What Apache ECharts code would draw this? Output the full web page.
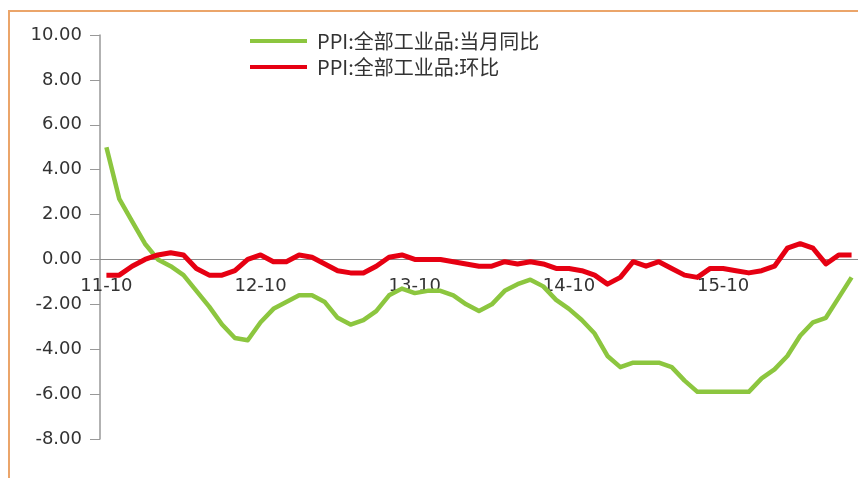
<!DOCTYPE html>
<html>
<head>
<meta charset="utf-8">
<script src="https://cdn.jsdelivr.net/npm/echarts@6/dist/echarts.min.js"></script>
<style>
    html, body { margin: 0; padding: 0; background: #fff; }
    #main { width: 858px; height: 478px; }
</style>
</head>
<body>
<div id="main"></div>
<script>
// monthly, 2011-10 .. 2016-08
var months = [
    '11-10', '11-11', '11-12',
    '12-01', '12-02', '12-03', '12-04', '12-05', '12-06', '12-07', '12-08', '12-09', '12-10', '12-11', '12-12',
    '13-01', '13-02', '13-03', '13-04', '13-05', '13-06', '13-07', '13-08', '13-09', '13-10', '13-11', '13-12',
    '14-01', '14-02', '14-03', '14-04', '14-05', '14-06', '14-07', '14-08', '14-09', '14-10', '14-11', '14-12',
    '15-01', '15-02', '15-03', '15-04', '15-05', '15-06', '15-07', '15-08', '15-09', '15-10', '15-11', '15-12',
    '16-01', '16-02', '16-03', '16-04', '16-05', '16-06', '16-07', '16-08'
];
var ppiYoy = [
    5.0, 2.7, 1.7,
    0.7, 0.0, -0.3, -0.7, -1.4, -2.1, -2.9, -3.5, -3.6, -2.8, -2.2, -1.9,
    -1.6, -1.6, -1.9, -2.6, -2.9, -2.7, -2.3, -1.6, -1.3, -1.5, -1.4, -1.4,
    -1.6, -2.0, -2.3, -2.0, -1.4, -1.1, -0.9, -1.2, -1.8, -2.2, -2.7, -3.3,
    -4.3, -4.8, -4.6, -4.6, -4.6, -4.8, -5.4, -5.9, -5.9, -5.9, -5.9, -5.9,
    -5.3, -4.9, -4.3, -3.4, -2.8, -2.6, -1.7, -0.8
];
var ppiMom = [
    -0.7, -0.7, -0.3,
    0.0, 0.2, 0.3, 0.2, -0.4, -0.7, -0.7, -0.5, 0.0, 0.2, -0.1, -0.1,
    0.2, 0.1, -0.2, -0.5, -0.6, -0.6, -0.3, 0.1, 0.2, 0.0, 0.0, 0.0,
    -0.1, -0.2, -0.3, -0.3, -0.1, -0.2, -0.1, -0.2, -0.4, -0.4, -0.5, -0.7,
    -1.1, -0.8, -0.1, -0.3, -0.1, -0.4, -0.7, -0.8, -0.4, -0.4, -0.5, -0.6,
    -0.5, -0.3, 0.5, 0.7, 0.5, -0.2, 0.2, 0.2
];
var seriesNames = ['PPI:全部工业品:当月同比', 'PPI:全部工业品:环比'];

// y range -8..10 over 404px, so zero sits 8/18 of the height above the bottom
var gridTop = 35, gridHeight = 404;
var zeroOffset = gridHeight * 8 / 18;

var myChart = echarts.init(document.getElementById('main'));
myChart.setOption({
    animation: false,
    graphic: [{
        type: 'rect',
        shape: { x: 9, y: 11, width: 900, height: 520 },
        style: { fill: 'none', stroke: '#eba56a', lineWidth: 2 },
        silent: true
    }],
    legend: {
        orient: 'vertical',
        left: 245,
        top: 26,
        itemWidth: 57,
        itemHeight: 4,
        itemGap: 6,
        icon: 'rect',
        data: seriesNames,
        textStyle: {
            fontFamily: 'Noto Sans CJK SC',
            fontSize: 20,
            lineHeight: 20,
            color: '#333',
            padding: [0, 0, 0, 5]
        }
    },
    grid: { left: 100, top: gridTop, width: 764, height: gridHeight },
    xAxis: {
        type: 'category',
        data: months,
        boundaryGap: true,
        position: 'bottom',
        offset: -zeroOffset,
        axisLine: { onZero: false, lineStyle: { color: '#8a8a8a', width: 1 } },
        axisTick: { interval: 11, length: 6, lineStyle: { color: '#8a8a8a' } },
        axisLabel: {
            interval: 11,
            margin: 18,
            fontFamily: 'DejaVu Sans',
            fontSize: 18,
            color: '#333'
        },
        splitLine: { show: false }
    },
    yAxis: {
        type: 'value',
        min: -8,
        max: 10,
        interval: 2,
        axisLine: { show: true, lineStyle: { color: '#999', width: 1.5 } },
        axisTick: { show: true, length: 10, lineStyle: { color: '#999' } },
        axisLabel: {
            margin: 18,
            fontFamily: 'DejaVu Sans',
            fontSize: 18,
            color: '#333',
            formatter: function (v) { return v.toFixed(2); }
        },
        splitLine: { show: false }
    },
    series: [
        {
            name: seriesNames[0],
            type: 'line',
            data: ppiYoy,
            symbol: 'none',
            color: '#8cc63f',
            lineStyle: { width: 4.5, color: '#8cc63f', join: 'round' }
        },
        {
            name: seriesNames[1],
            type: 'line',
            data: ppiMom,
            symbol: 'none',
            color: '#e60012',
            lineStyle: { width: 5, color: '#e60012', join: 'round' }
        }
    ]
});
</script>
</body>
</html>
